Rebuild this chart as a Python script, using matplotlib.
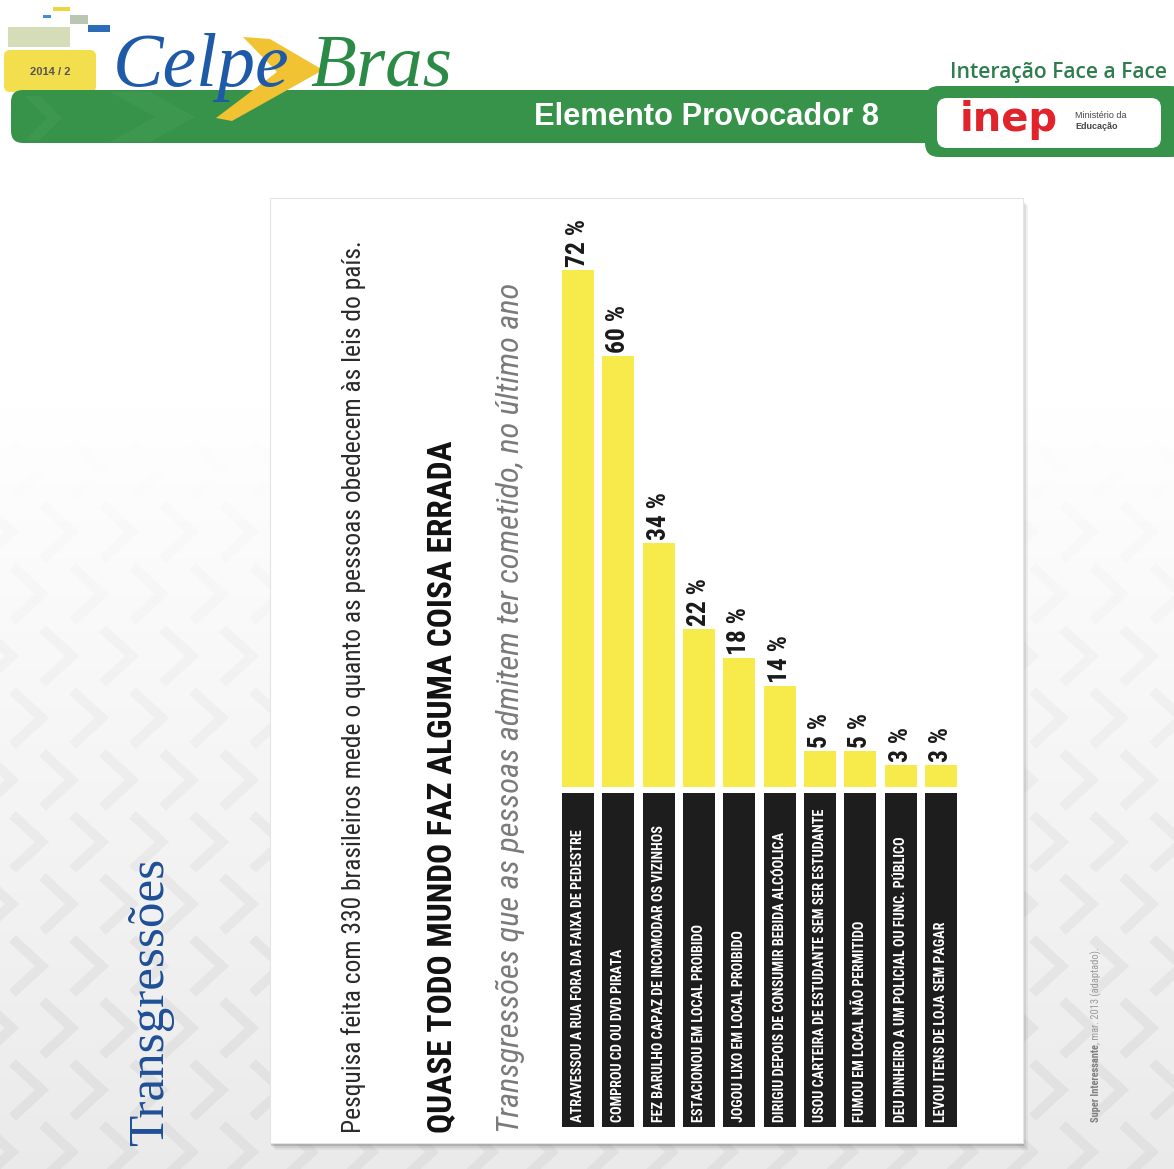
import numpy as np
import matplotlib
matplotlib.use('Agg')
import matplotlib.pyplot as plt
from matplotlib import font_manager
from matplotlib.patches import Rectangle, FancyBboxPatch, Polygon

# survey results: share of people who admit each transgression in the last year
categories = [
    'ATRAVESSOU A RUA FORA DA FAIXA DE PEDESTRE',
    'COMPROU CD OU DVD PIRATA',
    'FEZ BARULHO CAPAZ DE INCOMODAR OS VIZINHOS',
    'ESTACIONOU EM LOCAL PROIBIDO',
    'JOGOU LIXO EM LOCAL PROIBIDO',
    'DIRIGIU DEPOIS DE CONSUMIR BEBIDA ALCÓOLICA',
    'USOU CARTEIRA DE ESTUDANTE SEM SER ESTUDANTE',
    'FUMOU EM LOCAL NÃO PERMITIDO',
    'DEU DINHEIRO A UM POLICIAL OU FUNC. PÚBLICO',
    'LEVOU ITENS DE LOJA SEM PAGAR',
]
percent = [72, 60, 34, 22, 18, 14, 5, 5, 3, 3]

intro = 'Pesquisa feita com 330 brasileiros mede o quanto as pessoas obedecem às leis do país.'
headline = 'QUASE TODO MUNDO FAZ ALGUMA COISA ERRADA'
subtitle = 'Transgressões que as pessoas admitem ter cometido, no último ano'
source_bold = 'Super Interessante'
source_rest = ', mar. 2013 (adaptado).'

# pick a narrow face when one is installed
installed = {f.name for f in font_manager.fontManager.ttflist}


def first_font(*names):
    for n in names:
        if n in installed:
            return n
    return 'DejaVu Sans'


COND = first_font('Roboto Condensed', 'Liberation Sans Narrow', 'Open Sans Condensed', 'DejaVu Sans')
SERIF = first_font('Liberation Serif', 'DejaVu Serif')
SANS = first_font('Liberation Sans', 'DejaVu Sans')
OPEN = first_font('Open Sans', 'Noto Sans', 'DejaVu Sans')

W, H = 1174, 1169
fig = plt.figure(figsize=(W / 100, H / 100), dpi=100)
bg = fig.add_axes([0, 0, 1, 1])


def fit(txt, length, along='x'):
    # scale the font so the drawn text spans `length` pixels
    r = fig.canvas.get_renderer()
    for _ in range(3):
        ext = txt.get_window_extent(r)
        cur = ext.width if along == 'x' else ext.height
        txt.set_fontsize(txt.get_fontsize() * length / cur)
    return txt.get_fontsize()


# page background: white on top, light grey lower down, faint chevron pattern
yy = np.linspace(0, 1, 400)[:, None]
shade = np.clip((yy - 0.35) / 0.65, 0, 1)
top_c = np.array([1.0, 1.0, 1.0])
bot_c = np.array([0.92, 0.92, 0.92])
grad = top_c + (bot_c - top_c) * shade[..., None]
bg.imshow(np.repeat(grad, 2, axis=1), extent=[0, W, H, 0], aspect='auto', zorder=0)

for r, cy in enumerate(range(470, H + 40, 62)):
    a = min(1.0, (cy - 440) / 600) * 0.35
    for cx in range(-30 + (r % 2) * 30, W + 40, 60):
        bg.plot([cx - 14, cx + 12, cx - 14], [cy - 24, cy, cy + 24],
                color='#cfcfcf', lw=7, alpha=a, solid_joinstyle='miter', zorder=1)

bg.set_xlim(0, W)
bg.set_ylim(H, 0)
bg.axis('off')

# header decorations
for (x0, y0, x1, y1, c) in [(53, 7, 70, 11, '#f1d43c'), (43, 15, 51, 18, '#3d8fd6'),
                            (70, 15, 88, 24, '#b9c6b0'), (88, 25, 110, 32, '#2b6db6'),
                            (8, 27, 70, 47, '#d5dcb8')]:
    bg.add_patch(Rectangle((x0, y0), x1 - x0, y1 - y0, fc=c, ec='none', zorder=3))
bg.add_patch(FancyBboxPatch((4, 50), 92, 42, boxstyle='round,pad=0,rounding_size=6',
                            fc='#f3df4e', ec='none', zorder=3))
bg.text(50, 72, '2014 / 2', ha='center', va='center', fontsize=8, weight='bold',
        color='#555555', family=SANS, zorder=6)

band_green = '#37924a'
bg.add_patch(FancyBboxPatch((11, 90), 1220, 53, boxstyle='round,pad=0,rounding_size=12',
                            fc=band_green, ec='none', zorder=3))
bg.add_patch(FancyBboxPatch((925, 86), 260, 71, boxstyle='round,pad=0,rounding_size=14',
                            fc=band_green, ec='none', zorder=3))
bg.add_patch(FancyBboxPatch((937, 98), 224, 50, boxstyle='round,pad=0,rounding_size=10',
                            fc='white', ec='none', zorder=4))
for pts in [[(25, 96), (40, 96), (62, 118), (40, 140), (25, 140), (47, 118)],
            [(110, 92), (150, 92), (195, 117), (150, 142), (110, 142), (155, 117)]]:
    bg.add_patch(Polygon(pts, closed=True, fc='#52a85c', ec='none', alpha=0.25, zorder=3))

bg.add_patch(Polygon([(243, 37), (270, 39), (323, 70), (232, 121), (216, 118), (277, 72)],
                     closed=True, fc='#f1c232', ec='none', zorder=4))

t = bg.text(113, 86, 'Celpe', family=SERIF, style='italic', color='#1e5aa8',
            fontsize=50, ha='left', va='baseline', zorder=6)
fit(t, 177)
t = bg.text(310, 86, 'Bras', family=SERIF, style='italic', color='#2c8a47',
            fontsize=50, ha='left', va='baseline', zorder=6)
fit(t, 142)
t = bg.text(1167, 78, 'Interação Face a Face', family=OPEN, weight='semibold',
            color='#2f7d4c', fontsize=14, ha='right', va='baseline', zorder=6)
fit(t, 217)
t = bg.text(706, 125, 'Elemento Provocador 8', family=SANS, weight='bold',
            color='white', fontsize=18, ha='center', va='baseline', zorder=6)
fit(t, 345)
t = bg.text(960, 131, 'inep', family='DejaVu Sans', weight='heavy', color='#e1232b',
            fontsize=22, ha='left', va='baseline', zorder=6)
fit(t, 98)
bg.text(1075, 118, 'Ministério da', family=SANS, fontsize=6.5, color='#444444',
        ha='left', va='baseline', zorder=6)
bg.text(1075, 129, 'Educação', family=SANS, fontsize=6.5, weight='bold', color='#444444',
        ha='left', va='baseline', zorder=6)

# section title on the left
t = bg.text(163, 1146, 'Transgressões', family=SERIF, color='#1f4f96', fontsize=40,
            rotation=90, rotation_mode='anchor', ha='left', va='baseline', zorder=6)
fit(t, 288, along='y')

# white card with a soft shadow
cx0, cy0, cx1, cy1 = 270, 198, 1023, 1143
for off, al in [(7, 0.10), (5, 0.15), (3, 0.30)]:
    bg.add_patch(Rectangle((cx0 + off - 2, cy0 + off), cx1 - cx0, cy1 - cy0,
                           fc='#707070', ec='none', alpha=al, zorder=4))
bg.add_patch(Rectangle((cx0, cy0), cx1 - cx0, cy1 - cy0, fc='white', ec='#e4e4e4',
                       lw=0.8, zorder=5))

# rotated headings inside the card
t = bg.text(361, 1133, intro, family=COND, fontstretch='condensed', color='#2a2a2a',
            fontsize=20, rotation=90, rotation_mode='anchor', ha='left', va='baseline', zorder=6)
fit(t, 893, along='y')
t = bg.text(451, 1133, headline, family=COND, fontstretch='condensed', weight='bold',
            color='#111111', fontsize=26, rotation=90, rotation_mode='anchor',
            ha='left', va='baseline', zorder=6)
fit(t, 693, along='y')
t = bg.text(519, 1133, subtitle, family=COND, fontstretch='condensed', style='italic',
            color='#7a7a7a', fontsize=24, rotation=90, rotation_mode='anchor',
            ha='left', va='baseline', zorder=6)
fit(t, 850, along='y')

# source credit at the right margin
r = fig.canvas.get_renderer()
s1 = bg.text(1099, 1122, source_bold, family=COND, fontstretch='condensed', weight='bold',
             color='#7d7d7d', fontsize=7.5, rotation=90, rotation_mode='anchor',
             ha='left', va='baseline', zorder=6)
h1 = s1.get_window_extent(r).height
bg.text(1099, 1122 - h1, source_rest, family=COND, fontstretch='condensed',
        color='#9a9a9a', fontsize=7.5, rotation=90, rotation_mode='anchor',
        ha='left', va='baseline', zorder=6)

# bar chart: vertical bars on top, black label strips below the baseline
x = np.arange(len(percent))
ax = fig.add_axes([550 / W, 1 - 1127 / H, 420 / W, 927 / H])
ax.set_xlim(-0.694, 9.72)
ax.set_ylim(-47.35, 81.75)
ax.axis('off')
ax.bar(x, percent, width=0.79, color='#f6eb4b', zorder=2)
ax.bar(x, -46.45, bottom=-0.9, width=0.79, color='#1d1d1d', zorder=2)

labels = [ax.text(i, v + 0.45, f'{v} %', family=COND, fontstretch='condensed', weight='bold',
                  color='#1a1a1a', fontsize=14, rotation=90, ha='center', va='bottom', zorder=3)
          for i, v in zip(x, percent)]
size = fit(labels[0], 48, along='y')
for lb in labels:
    lb.set_fontsize(size)

strips = [ax.text(i, -46.6, c, family=COND, fontstretch='condensed', weight='bold',
                  color='white', fontsize=9, rotation=90, ha='center', va='bottom', zorder=3)
          for i, c in zip(x, categories)]
size = fit(strips[0], 294, along='y')
for s in strips:
    s.set_fontsize(size)

fig.savefig('out.png', dpi=100)
